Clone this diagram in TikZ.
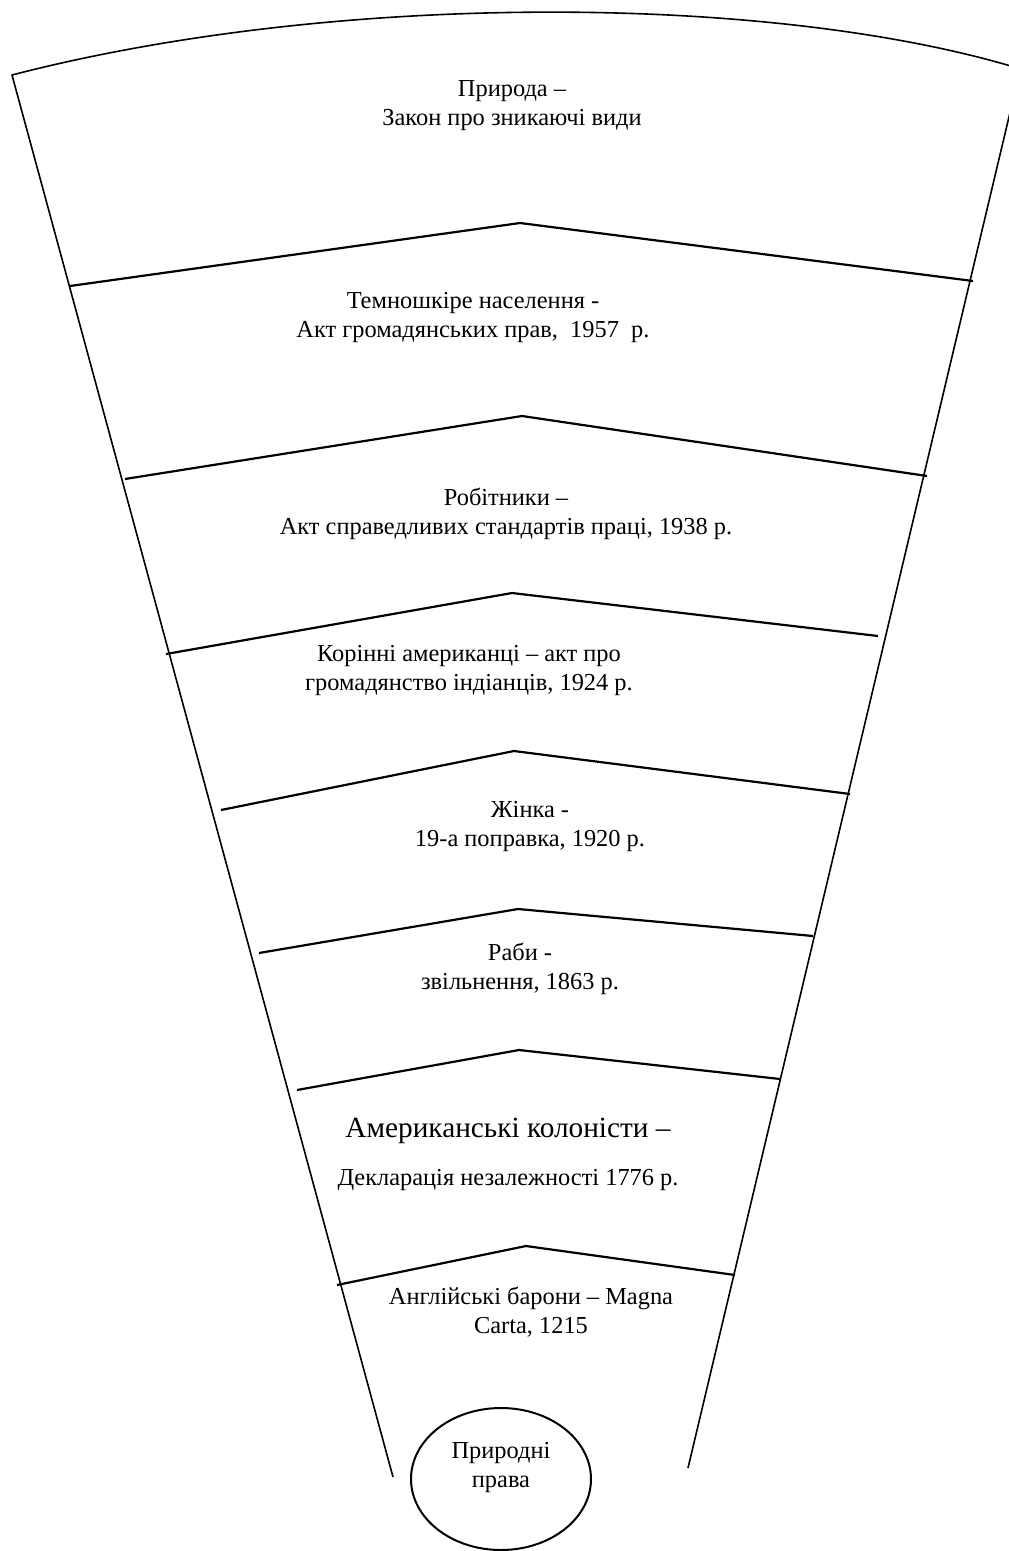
\documentclass[tikz,border=0pt]{standalone}
\usepackage{fontspec}
\setmainfont{Liberation Serif}
\usetikzlibrary{shapes}

\tikzset{
  side/.style={line width=1.6pt, line join=round},
  band/.style={line width=2.2pt, line join=round},
  lawtext/.style={align=center, inner sep=0pt, font=\fontsize{24.4}{29}\selectfont},
  oval/.style={ellipse, draw, line width=2pt, minimum width=180pt, minimum height=142pt}
}

\begin{document}
\begin{tikzpicture}[x=1pt,y=-1pt]
\useasboundingbox (0,0) rectangle (1009,1551);

% the cup
\draw[side] (1024,70) .. controls (780,-6) and (340,-10) .. (12,75) -- (393,1477);
\draw[side] (1013,100) -- (688,1468);

% bands
\draw[band] (70,286) -- (520,223) -- (973,281);
\draw[band] (125,479) -- (522,416) -- (927,476);
\draw[band] (166,654) -- (512,593) -- (878,636);
\draw[band] (221,810) -- (514,751) -- (850,794);
\draw[band] (259,953) -- (518,909) -- (813,936);
\draw[band] (297,1090) -- (519,1050) -- (780,1079);
\draw[band] (337,1285) -- (526,1246) -- (735,1275);

\node[lawtext] (nature) at (512,106) {Природа –\\Закон про зникаючі види};
\node[lawtext] (blacks) at (473,318) {Темношкіре населення -\\Акт громадянських прав,~ 1957~ р.};
\node[lawtext] (workers) at (506,514) {Робітники –\\Акт справедливих стандартів праці, 1938 р.};
\node[lawtext] (natives) at (469,671) {Корінні американці – акт про\\громадянство індіанців, 1924 р.};
\node[lawtext] (women) at (530,827) {Жінка -\\19-а поправка, 1920 р.};
\node[lawtext] (slaves) at (520,969) {Раби -\\звільнення, 1863 р.};
\node[lawtext] (colonists) at (508,1154) {{\fontsize{29.3}{29}\selectfont Американські колоністи –}\\[19pt]Декларація незалежності 1776 р.};
\node[lawtext] (barons) at (531,1312) {Англійські барони – Magna\\Carta, 1215};

\node[oval] (rights) at (501,1479) {};
\node[lawtext] (rightstext) at ([yshift=11pt]rights.center) {Природні\\права};
\end{tikzpicture}
\end{document}
